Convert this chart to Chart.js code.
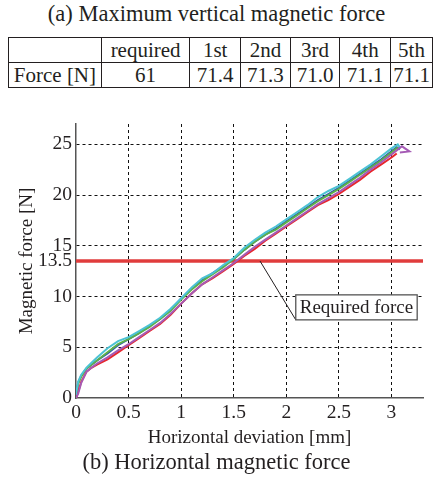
<!DOCTYPE html>
<html>
<head>
<meta charset="utf-8">
<script src="https://cdn.jsdelivr.net/npm/chart.js@4"></script>
<style>
  body { margin: 0; width: 433px; height: 478px; background: #fff; position: relative;
         font-family: "Liberation Serif", "Times New Roman", serif; color: #231f20; overflow: hidden; }
  .cap { position: absolute; left: 0; width: 433px; text-align: center; font-size: 22.5px; }
  #tbl { position: absolute; left: 8px; top: 37px; border-collapse: collapse; font-size: 21px; }
  #tbl td { border: 1.5px solid #231f20; height: 24px; padding: 0; text-align: center; line-height: 24px; }
  #wrap { position: absolute; left: 0; top: 100px; width: 433px; height: 350px; }
</style>
</head>
<body>
<div class="cap" style="top:1px">(a) Maximum vertical magnetic force</div>
<table id="tbl"></table>
<div id="wrap"><canvas id="forceChart"></canvas></div>
<div class="cap" style="top:449px">(b) Horizontal magnetic force</div>
<script>
// table (a)
const tableHeads = ['', 'required', '1st', '2nd', '3rd', '4th', '5th'];
const tableForce = ['Force [N]', '61', '71.4', '71.3', '71.0', '71.1', '71.1'];
const colWidths = [93, 88, 50, 49, 49, 50, 41];

// chart (b)
const xTicks = [0, 0.5, 1, 1.5, 2, 2.5, 3];
const yTicks = [0, 5, 10, 13.5, 15, 20, 25];
const requiredForce = 13.5;
const deviation = [0, 0.02, 0.05, 0.1, 0.15, 0.2, 0.3, 0.4, 0.5, 0.6, 0.7, 0.8, 0.9, 1.0, 1.1, 1.2, 1.3, 1.4, 1.5,
  1.6, 1.7, 1.8, 1.9, 2.0, 2.1, 2.2, 2.3, 2.4, 2.5, 2.6, 2.7, 2.8, 2.9, 3.0];
const trial1 = [0.1, 1.5, 2.2, 2.9, 3.3, 3.7, 4.4, 5.2, 5.8, 6.4, 7.1, 7.8, 8.7, 9.8, 10.8, 11.6, 12.3, 13.0, 13.7,
  14.6, 15.4, 16.1, 16.7, 17.4, 18.1, 18.8, 19.5, 20.1, 20.7, 21.4, 22.1, 22.8, 23.5, 24.3];
const trial2 = [0, 0.6, 1.6, 2.6, 3.0, 3.3, 3.8, 4.5, 5.2, 5.9, 6.6, 7.3, 8.2, 9.3, 10.3, 11.2, 11.8, 12.5, 13.2,
  14.0, 14.7, 15.5, 16.2, 16.9, 17.6, 18.3, 19.0, 19.5, 20.1, 20.8, 21.5, 22.3, 23.0, 23.7];
const trial3 = [0.2, 1.4, 2.1, 2.9, 3.3, 3.7, 4.5, 5.3, 5.8, 6.4, 7.0, 7.8, 8.6, 9.7, 10.7, 11.5, 12.2, 12.9, 13.7,
  14.6, 15.4, 16.1, 16.6, 17.3, 18.0, 18.7, 19.4, 20.0, 20.6, 21.3, 22.0, 22.7, 23.4, 24.2];
const trial4 = [0.3, 1.6, 2.3, 3.0, 3.5, 4.0, 4.9, 5.6, 6.0, 6.6, 7.2, 7.9, 8.8, 9.8, 10.9, 11.8, 12.3, 13.1, 13.8,
  14.8, 15.6, 16.3, 16.9, 17.6, 18.3, 19.0, 19.8, 20.4, 20.9, 21.6, 22.3, 23.0, 23.8, 24.6];
const trial5 = [0, 0.4, 1.5, 2.6, 3.0, 3.4, 4.0, 4.7, 5.3, 6.0, 6.7, 7.4, 8.3, 9.3, 10.3, 11.2, 11.9, 12.6, 13.3,
  14.1, 14.9, 15.6, 16.3, 17.0, 17.7, 18.4, 19.1, 19.7, 20.3, 21.0, 21.7, 22.5, 23.2, 24.0];
// end of each run (x, y)
const tail1 = [[3.05, 24.7], [3.08, 24.5]];
const tail2 = [[3.05, 24.1]];
const tail3 = [[3.06, 24.7]];
const tail4 = [[3.06, 25.0], [3.08, 24.7]];
const tail5 = [[3.05, 24.4], [3.1, 24.8], [3.17, 24.3], [3.08, 24.2]];

// build table
const tbl = document.getElementById('tbl');
[tableHeads, tableForce].forEach(row => {
  const tr = document.createElement('tr');
  row.forEach((t, i) => {
    const td = document.createElement('td');
    td.textContent = t;
    td.style.width = colWidths[i] + 'px';
    tr.appendChild(td);
  });
  tbl.appendChild(tr);
});

function pts(ys, tail) {
  return deviation.map((x, i) => ({ x: x, y: ys[i] })).concat(tail.map(p => ({ x: p[0], y: p[1] })));
}

const serif = '"Liberation Serif", "Times New Roman", serif';
const ink = '#231f20';

// leader line + "Required force" box
const labelPlugin = {
  id: 'requiredLabel',
  afterDatasetsDraw(chart) {
    const { ctx, scales: { x, y } } = chart;
    const x0 = x.getPixelForValue(1.75), y0 = y.getPixelForValue(requiredForce);
    const x1 = x.getPixelForValue(2.09), y1 = y.getPixelForValue(7.7);
    ctx.save();
    ctx.font = '19px ' + serif;
    const w = ctx.measureText('Required force').width + 8;
    const h = 25;
    ctx.strokeStyle = ink;
    ctx.lineWidth = 1;
    ctx.beginPath();
    ctx.moveTo(x0, y0);
    ctx.lineTo(x1, y1);
    ctx.stroke();
    ctx.fillStyle = '#fff';
    ctx.fillRect(x1, y1 - h, w, h);
    ctx.lineWidth = 1.3;
    ctx.strokeStyle = '#555';
    ctx.strokeRect(x1, y1 - h, w, h);
    ctx.fillStyle = ink;
    ctx.textAlign = 'center';
    ctx.textBaseline = 'middle';
    ctx.fillText('Required force', x1 + w / 2, y1 - h / 2 + 1);
    ctx.restore();
  }
};

const gridColor = c => (c.tick && (c.tick.value === 0 || c.tick.value === requiredForce)) ? 'rgba(0,0,0,0)' : '#111';

new Chart(document.getElementById('forceChart'), {
  type: 'line',
  data: {
    datasets: [
      { label: '5th', data: pts(trial5, tail5), borderColor: '#a55bb5' },
      { label: '4th', data: pts(trial4, tail4), borderColor: '#4cc3d4' },
      { label: '2nd', data: pts(trial2, tail2), borderColor: '#e8262d' },
      { label: '3rd', data: pts(trial3, tail3), borderColor: '#5bb04a' },
      { label: '1st', data: pts(trial1, tail1), borderColor: '#2a4fb8' },
      { label: 'required', data: [{ x: 0, y: requiredForce }, { x: 3.3, y: requiredForce }],
        borderColor: '#e03c3c', borderWidth: 3.5 }
    ]
  },
  options: {
    responsive: true,
    maintainAspectRatio: false,
    animation: false,
    layout: { padding: { top: 24, right: 10, left: 0, bottom: 0 } },
    elements: { point: { radius: 0 }, line: { borderWidth: 2, tension: 0 } },
    plugins: { legend: { display: false }, tooltip: { enabled: false } },
    scales: {
      x: {
        type: 'linear', min: 0, max: 3.3,
        afterBuildTicks: s => { s.ticks = xTicks.map(v => ({ value: v })); },
        afterFit: s => { s.height = 52; },
        ticks: { color: ink, padding: 3, font: { family: serif, size: 19.5 }, callback: v => String(v) },
        grid: { color: gridColor, lineWidth: 1, drawTicks: false },
        border: { color: '#555', width: 1.5, dash: [3, 3] },
        title: { display: true, text: 'Horizontal deviation [mm]', color: ink,
                 font: { family: serif, size: 19 }, padding: { top: 0, bottom: 1 } }
      },
      y: {
        type: 'linear', min: 0, max: 27,
        afterBuildTicks: s => { s.ticks = yTicks.map(v => ({ value: v })); },
        afterFit: s => { s.width = 76; },
        ticks: { color: ink, padding: 4, font: { family: serif, size: 19.5 }, callback: v => String(v) },
        grid: { color: gridColor, lineWidth: 1, drawTicks: false },
        border: { color: '#555', width: 1.5, dash: [3, 3] },
        title: { display: true, text: 'Magnetic force [N]', color: ink,
                 font: { family: serif, size: 19 }, padding: { top: 16, bottom: 0 } }
      }
    }
  },
  plugins: [labelPlugin]
});
</script>
</body>
</html>
